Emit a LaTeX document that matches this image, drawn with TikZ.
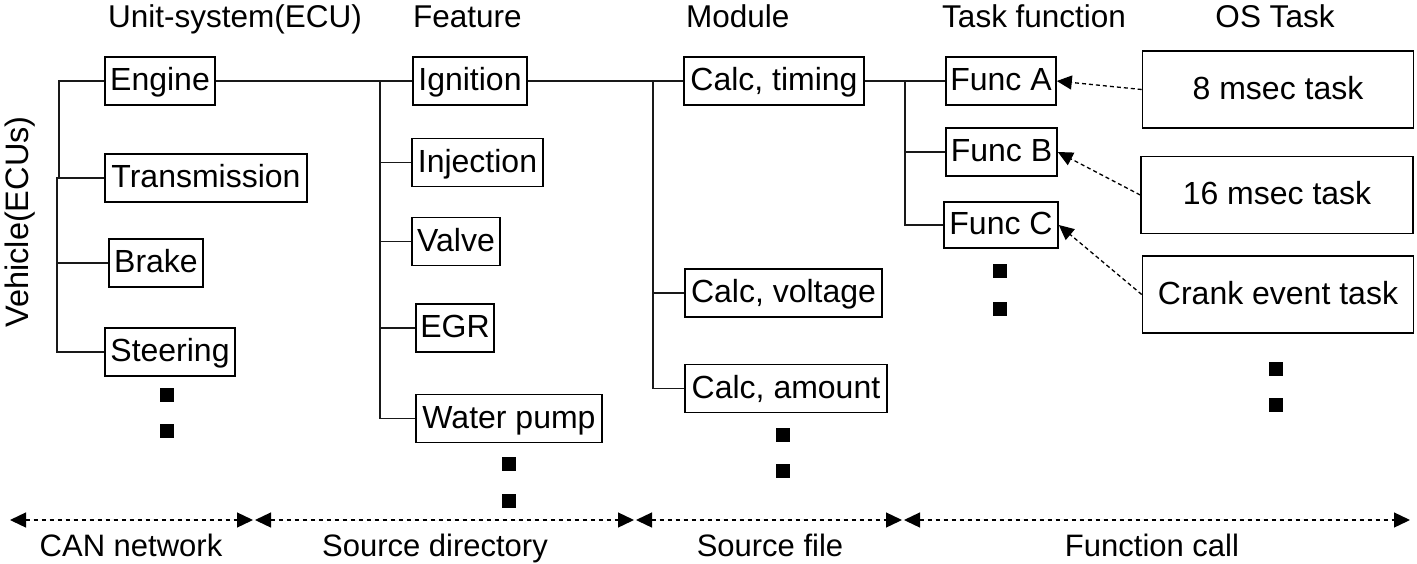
\documentclass[tikz,border=0pt]{standalone}
\usepackage{fontspec}
\setmainfont{Liberation Sans}
\usetikzlibrary{arrows.meta}
\begin{document}
\begin{tikzpicture}[x=1pt,y=-1pt,
  box/.style={draw=black, line width=1.6pt, inner sep=0pt, font=\fontsize{32}{36}\selectfont, minimum height=48pt, text height=24pt, text depth=4.6pt},
  tbox/.style={box, minimum height=77pt, minimum width=271pt},
  hdr/.style={font=\fontsize{31.5}{36}\selectfont, anchor=base, inner sep=0pt},
  lbl/.style={font=\fontsize{31}{36}\selectfont, anchor=base, inner sep=0pt},
  tree/.style={line width=1.6pt, draw=black!90},
  call/.style={line width=1.3pt, dash pattern=on 4pt off 3pt, -{Triangle[length=15pt,width=14pt]}},
  span/.style={line width=1.3pt, dash pattern=on 4.5pt off 3.5pt, {Triangle[length=16pt,width=15pt]}-{Triangle[length=16pt,width=15pt]}},
  dot/.style={fill=black, inner sep=0pt, minimum size=14pt}
]
\useasboundingbox (0,0) rectangle (1417,563);

% headers
\node[hdr] (h1) at (235,27) {Unit-system(ECU)};
\node[hdr, anchor=base west] (h2) at (413,27) {Feature};
\node[hdr, anchor=base west] (h3) at (686,27) {Module};
\node[hdr, anchor=base west] (h4) at (942,27) {Task function};
\node[hdr] (h5) at (1275,27) {OS Task};

\node[font=\fontsize{32.5}{36}\selectfont, rotate=90, anchor=base, inner sep=0pt] (veh) at (28,222) {Vehicle(ECUs)};

% boxes
\node[box, minimum width=110pt] (eng) at (160,81) {Engine};
\node[box, minimum width=202pt] (tra) at (206,178) {Transmission};
\node[box, minimum width=94pt] (bra) at (156,263) {Brake};
\node[box, minimum width=130pt] (ste) at (170,352) {Steering};
\node[box, minimum width=114pt] (ign) at (470,81) {Ignition};
\node[box, minimum width=131pt] (inj) at (477.5,162.5) {Injection};
\node[box, minimum width=88pt] (val) at (456,241.5) {Valve};
\node[box, minimum width=78pt] (egr) at (455,328) {EGR};
\node[box, minimum width=186pt] (wat) at (509,418.5) {Water pump};
\node[box, minimum width=180pt] (cti) at (774,81) {Calc, timing};
\node[box, minimum width=197pt] (cvo) at (783.5,293) {Calc, voltage};
\node[box, minimum width=202pt] (cam) at (786,388.5) {Calc, amount};
\node[box, minimum width=110pt] (fa) at (1001,81) {Func A};
\node[box, minimum width=111pt] (fb) at (1001.5,152) {Func B};
\node[box, minimum width=114pt, minimum height=46pt] (fc) at (1001,225) {Func C};
\node[tbox] (t8) at (1278,89.5) {8 msec task};
\node[tbox, minimum width=272pt] (t16) at (1277,195) {16 msec task};
\node[tbox] (tcr) at (1278,294.5) {Crank event task};

% tree 1
\coordinate (ja) at (59,178);
\coordinate (jb) at (57,178);
\draw[tree] (eng.west) -| (ja);
\draw[tree] (tra.west) -- (jb) |- (ste.west);
\draw[tree] (bra.west) -- (bra.west -| jb);

% tree 2
\draw[tree] (eng.east) -- (ign.west);
\coordinate (j2) at (380,81);
\draw[tree] (j2) |- (wat.west);
\foreach \n in {inj,val,egr} \draw[tree] (\n.west) -- (\n.west -| j2);

% tree 3
\draw[tree] (ign.east) -- (cti.west);
\coordinate (j3) at (653,81);
\draw[tree] (j3) |- (cam.west);
\draw[tree] (cvo.west) -- (cvo.west -| j3);

% tree 4
\draw[tree] (cti.east) -- (fa.west);
\coordinate (j4) at (905,81);
\draw[tree] (j4) |- (fc.west);
\draw[tree] (fb.west) -- (fb.west -| j4);

% calls
\draw[call] (t8.west) -- (fa.east);
\draw[call] (t16.west) -- (fb.east);
\draw[call] (tcr.west) -- (fc.east);

% dots
\node[dot] (d1) at (167,395) {};
\node[dot] (d2) at (167,431) {};
\node[dot] (d3) at (509,464) {};
\node[dot] (d4) at (509,501) {};
\node[dot] (d5) at (783,435) {};
\node[dot] (d6) at (783,471) {};
\node[dot] (d7) at (1000,271) {};
\node[dot] (d8) at (1000,309) {};
\node[dot] (d9) at (1276,369) {};
\node[dot] (d10) at (1276,405) {};

% bottom spans
\coordinate (s0) at (10,520);
\coordinate (s1a) at (253,520);
\coordinate (s1b) at (255,520);
\coordinate (s2a) at (634,520);
\coordinate (s2b) at (636,520);
\coordinate (s3a) at (902,520);
\coordinate (s3b) at (904,520);
\coordinate (s4) at (1410,520);
\draw[span] (s0) -- (s1a);
\draw[span] (s1b) -- (s2a);
\draw[span] (s2b) -- (s3a);
\draw[span] (s3b) -- (s4);

\node[lbl] (l1) at (131,556) {CAN network};
\node[lbl] (l2) at (435,556) {Source directory};
\node[lbl] (l3) at (770,556) {Source file};
\node[lbl] (l4) at (1152,556) {Function call};
\end{tikzpicture}
\end{document}
